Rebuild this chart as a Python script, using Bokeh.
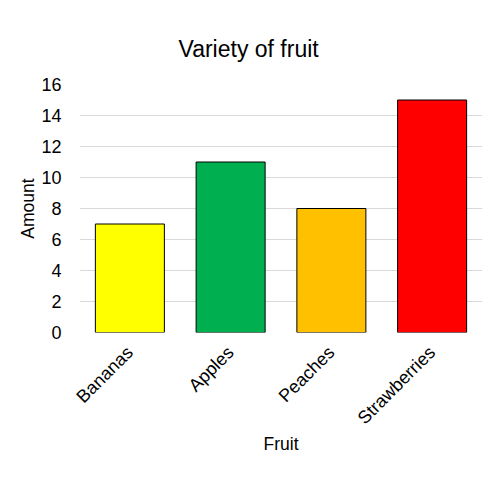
import math
from bokeh.plotting import figure
from bokeh.models import ColumnDataSource, Range1d
from bokeh.embed import file_html
from bokeh.resources import INLINE

fruits = ["Bananas", "Apples", "Peaches", "Strawberries"]
amounts = [7, 11, 8, 15]
colors = ["#FFFF00", "#00B050", "#FFC000", "#FF0000"]
y_ticks = [0, 2, 4, 6, 8, 10, 12, 14, 16]

src = ColumnDataSource(data=dict(fruit=fruits, amount=amounts, color=colors))

p = figure(x_range=fruits, y_range=Range1d(0, 16), width=500, height=500,
           output_backend="svg", toolbar_location=None,
           title="Variety of fruit",
           min_border_left=79, min_border_right=18, min_border_top=84, min_border_bottom=168)
p.frame_width = 403
p.frame_height = 248

p.vbar(x="fruit", top="amount", width=0.685, source=src, fill_color="color",
       line_color="#000000", line_width=1)

p.title.align = "left"
p.title.offset = 99
p.title.text_font = "Liberation Sans"
p.title.text_font_size = "23px"
p.title.text_font_style = "normal"
p.title.text_color = "#000000"
p.title.standoff = 46

p.outline_line_color = None
p.xgrid.grid_line_color = None
p.ygrid.grid_line_color = "#D9D9D9"
p.ygrid.ticker = y_ticks
p.yaxis.ticker = y_ticks

for ax in (p.xaxis[0], p.yaxis[0]):
    ax.axis_line_color = None
    ax.major_tick_line_color = None
    ax.minor_tick_line_color = None
    ax.major_label_text_font = "Liberation Sans"
    ax.major_label_text_font_size = "18px"
    ax.major_label_text_color = "#000000"
    ax.axis_label_text_font = "Liberation Sans"
    ax.axis_label_text_font_size = "17.5px"
    ax.axis_label_text_font_style = "normal"
    ax.axis_label_text_color = "#000000"

p.yaxis.axis_label = "Amount"
p.xaxis.axis_label = "Fruit"
p.yaxis.major_label_standoff = 12
p.yaxis.axis_label_standoff = 0
p.xaxis.major_label_orientation = math.pi / 4
p.xaxis.major_label_standoff = 11
p.xaxis.axis_label_standoff = -4

open("out.html", "w").write(file_html(p, INLINE))
